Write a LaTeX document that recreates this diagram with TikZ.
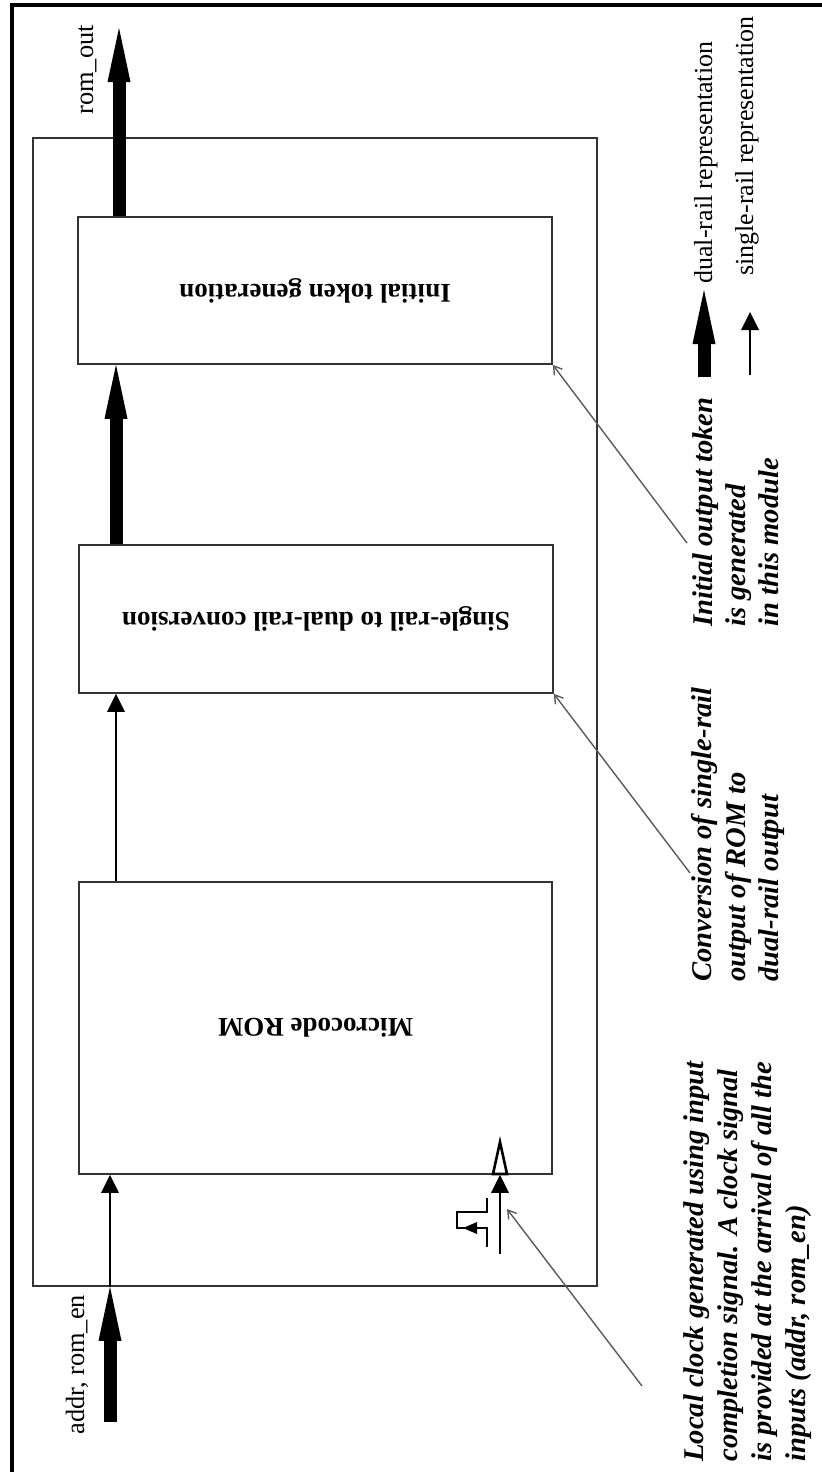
\documentclass[tikz,border=0pt]{standalone}
\usepackage{fontspec}
\setmainfont{Liberation Serif}
\usepackage{graphicx}
\usetikzlibrary{arrows.meta}
\definecolor{boxgray}{HTML}{333333}
\definecolor{notegray}{HTML}{5A5A5A}
\begin{document}
\begin{tikzpicture}[x=0.5pt,y=-0.5pt,
  block/.style={draw=boxgray, line width=0.8pt, inner sep=0pt,
    font=\bfseries\fontsize{13.5pt}{16pt}\selectfont},
  dualrail/.style={line width=6.5pt,
    -{Triangle[length=27pt,width=11.5pt,line width=0pt]}},
  singlerail/.style={line width=1.15pt,
    -{Triangle[length=9pt,width=9pt,line width=0pt]}},
  callout/.style={draw=notegray, line width=0.7pt,
    -{Straight Barb[length=4pt,width=5pt]}},
  notetext/.style={rotate=90, anchor=base west, inner sep=0pt,
    font=\bfseries\itshape\fontsize{14.3pt}{17pt}\selectfont},
  porttext/.style={rotate=90, anchor=base west, inner sep=0pt,
    font=\fontsize{13.2pt}{16pt}\selectfont},
  legendtext/.style={rotate=90, anchor=base west, inner sep=0pt,
    font=\fontsize{13pt}{16pt}\selectfont}]
\useasboundingbox (0,0) rectangle (822,1472);

% page frame
\draw[line width=2pt] (12,1472) -- (12,5.3) -- (822,5.3);

% module boundary and the three stages
\node[block, minimum width=282pt, minimum height=574pt] (module) at (315,712) {};
\node[block, minimum width=236.5pt, minimum height=146pt] (rom) at (315.5,1028)
  {\rotatebox{180}{Microcode ROM}};
\node[block, minimum width=237pt, minimum height=74pt] (conv) at (316,619)
  {\rotatebox{180}{Single-rail to dual-rail conversion}};
\node[block, minimum width=237pt, minimum height=73.5pt] (init) at (315,290.5)
  {\rotatebox{180}{Initial token generation}};

% data path
\coordinate (inTail) at (110,1422);
\coordinate (colB) at (116,0);
\coordinate (outTip) at (119,28);
\draw[dualrail] (inTail) -- (inTail |- module.south);
\draw[singlerail] (inTail |- module.south) -- (inTail |- rom.south);
\draw[singlerail] (colB |- rom.north) -- (colB |- conv.south);
\draw[dualrail] (colB |- conv.north) -- (colB |- init.south);
\draw[dualrail] (outTip |- init.north) -- (outTip);

\node[porttext] (inLbl) at (84,1435) {addr, rom\_en};
\node[porttext] (outLbl) at (93,115) {rom\_out};

% local clock input
\coordinate (clkTail) at (500,1254);
\draw[singlerail] (clkTail) -- (clkTail |- rom.south);
\draw[line width=1.3pt, line join=miter] (493,1174) -- (500,1142) -- (507,1174) -- cycle;
\draw[line width=1.15pt] (487,1198) -- (487,1212) -- (457,1212) -- (457,1228)
  -- (487,1228) -- (487,1247);
\draw[line width=1.15pt, -{Triangle[length=7pt,width=6pt,line width=0pt]}]
  (487,1228) -- (463,1228);

% callouts
\coordinate (clkPt) at (507,1209);
\coordinate (nClk) at (642,1386);
\coordinate (nConv) at (690,873);
\coordinate (nInit) at (687,543);
\draw[callout] (nClk) -- (clkPt);
\draw[callout] (nConv) -- (conv.south east);
\draw[callout] (nInit) -- (init.south east);

\node[notetext] (clk1) at (703,1462) {Local clock generated using input};
\node[notetext] (clk2) at (737,1462) {completion signal. A clock signal};
\node[notetext] (clk3) at (771,1462) {is provided at the arrival of all the};
\node[notetext] (clk4) at (805,1462) {inputs (addr, rom\_en)};

\node[notetext] (conv1) at (711,982) {Conversion of single-rail};
\node[notetext] (conv2) at (745,982) {output of ROM to};
\node[notetext] (conv3) at (778,982) {dual-rail output};

\node[notetext] (init1) at (712,627) {Initial output token};
\node[notetext] (init2) at (745,627) {is generated};
\node[notetext] (init3) at (778,627) {in this module};

% legend
\coordinate (lgDualTail) at (704,377);
\coordinate (lgDualTip) at (704,290);
\coordinate (lgSingleTail) at (750,375);
\coordinate (lgSingleTip) at (750,312);
\draw[dualrail] (lgDualTail) -- (lgDualTip);
\draw[singlerail] (lgSingleTail) -- (lgSingleTip);
\node[legendtext] (lgDual) at (712,284) {dual-rail representation};
\node[legendtext] (lgSingle) at (753,276) {single-rail representation};
\end{tikzpicture}
\end{document}
